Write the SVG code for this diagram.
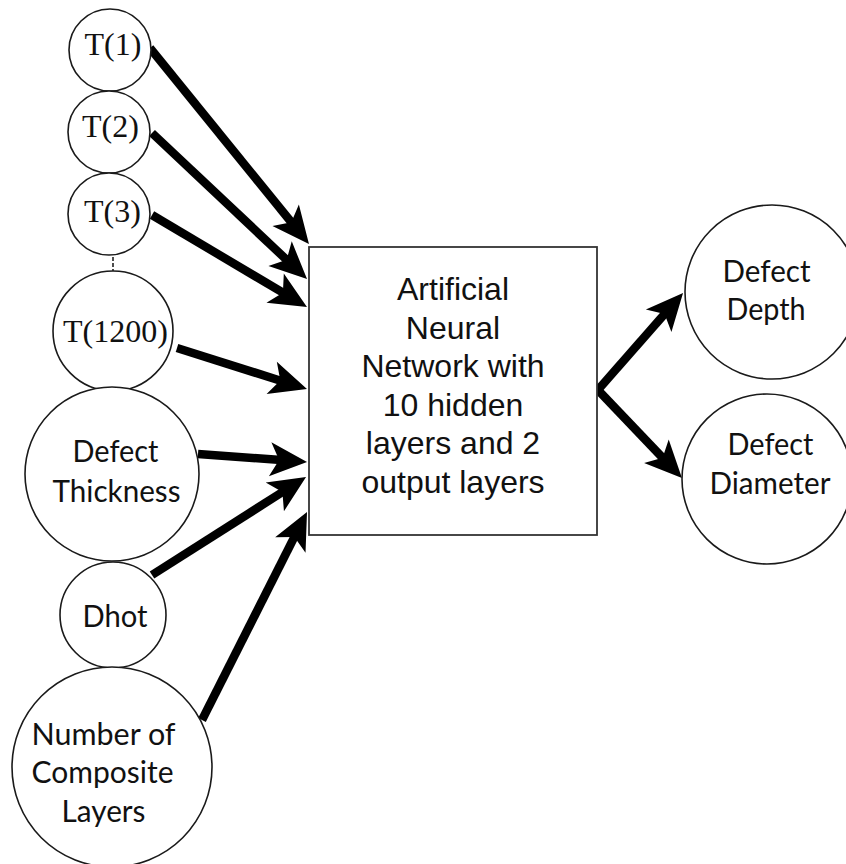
<svg xmlns="http://www.w3.org/2000/svg" width="846" height="864" viewBox="0 0 846 864">
<style>
.node{fill:#fff;stroke:#1a1a1a;stroke-width:1.6}
.box{fill:#fff;stroke:#333;stroke-width:1.8}
.tm{font-family:"Liberation Serif","Times New Roman",serif;font-size:32px;fill:#111;text-anchor:middle}
.cb{font-family:Lato,"Open Sans",sans-serif;font-size:30px;fill:#111;text-anchor:middle}
.ar{font-family:"Liberation Sans",Arial,sans-serif;font-size:32px;fill:#111;text-anchor:middle}
.edge{stroke:#000;stroke-width:8.5;fill:none;marker-end:url(#head)}
</style>
<defs>
<marker id="head" markerUnits="userSpaceOnUse" markerWidth="44" markerHeight="40" viewBox="-14 -20 44 40" refX="0" refY="0" orient="auto">
<path d="M26,0 L-11,-17 L-2,0 L-11,17 Z" fill="#000"/>
</marker>
</defs>
<rect width="846" height="864" fill="#fff"/>
<g id="connectors">
<line class="edge" x1="150" y1="48" x2="292.6" y2="223.8"/>
<line class="edge" x1="152" y1="133" x2="288.1" y2="261.2"/>
<line class="edge" x1="152" y1="215" x2="284.6" y2="293.7"/>
<line class="edge" x1="177" y1="348" x2="282.2" y2="381.2"/>
<line class="edge" x1="198" y1="454" x2="281.1" y2="460.1"/>
<line class="edge" x1="152" y1="575" x2="284.1" y2="491"/>
<line class="edge" x1="202" y1="720" x2="295.3" y2="535.2"/>
<line class="edge" x1="597" y1="391" x2="665.9" y2="312.5"/>
<line class="edge" x1="597" y1="389" x2="664" y2="459.2"/>
<line x1="113" y1="257" x2="113" y2="272" stroke="#222" stroke-width="1.6" stroke-dasharray="4,2"/>
</g>
<g id="t1"><circle class="node" cx="110" cy="50" r="41"/><text class="tm" x="113" y="55">T(1)</text></g>
<g id="t2"><circle class="node" cx="109" cy="132" r="41"/><text class="tm" x="110.5" y="137">T(2)</text></g>
<g id="t3"><circle class="node" cx="109" cy="214" r="41"/><text class="tm" x="112.5" y="222">T(3)</text></g>
<g id="t1200"><circle class="node" cx="113" cy="331" r="60"/><text class="tm" x="115.5" y="342">T(1200)</text></g>
<g id="thickness"><circle class="node" cx="112" cy="474" r="87"/>
<text class="cb" x="115.5" y="462" textLength="86" lengthAdjust="spacingAndGlyphs">Defect</text>
<text class="cb" x="116.5" y="502" textLength="128" lengthAdjust="spacingAndGlyphs">Thickness</text></g>
<g id="dhot"><circle class="node" cx="113" cy="615" r="53"/>
<text class="cb" x="115" y="627" textLength="65" lengthAdjust="spacingAndGlyphs">Dhot</text></g>
<g id="layers"><circle class="node" cx="112" cy="767" r="100"/>
<text class="cb" x="103.5" y="745" textLength="144" lengthAdjust="spacingAndGlyphs">Number of</text>
<text class="cb" x="102.5" y="783" textLength="142" lengthAdjust="spacingAndGlyphs">Composite</text>
<text class="cb" x="103.5" y="822" textLength="84" lengthAdjust="spacingAndGlyphs">Layers</text></g>
<g id="ann"><rect class="box" x="309" y="247" width="288" height="288"/>
<text class="ar" x="453" y="300">Artificial</text>
<text class="ar" x="453" y="338.5">Neural</text>
<text class="ar" x="453" y="377">Network with</text>
<text class="ar" x="453" y="415.5">10 hidden</text>
<text class="ar" x="453" y="454">layers and 2</text>
<text class="ar" x="453" y="492.5">output layers</text></g>
<g id="depth"><circle class="node" cx="772" cy="292" r="87"/>
<text class="cb" x="766.5" y="282" textLength="88" lengthAdjust="spacingAndGlyphs">Defect</text>
<text class="cb" x="766" y="320" textLength="79" lengthAdjust="spacingAndGlyphs">Depth</text></g>
<g id="diameter"><circle class="node" cx="767" cy="479" r="85"/>
<text class="cb" x="770.5" y="455" textLength="86" lengthAdjust="spacingAndGlyphs">Defect</text>
<text class="cb" x="770" y="494" textLength="121" lengthAdjust="spacingAndGlyphs">Diameter</text></g>
</svg>
